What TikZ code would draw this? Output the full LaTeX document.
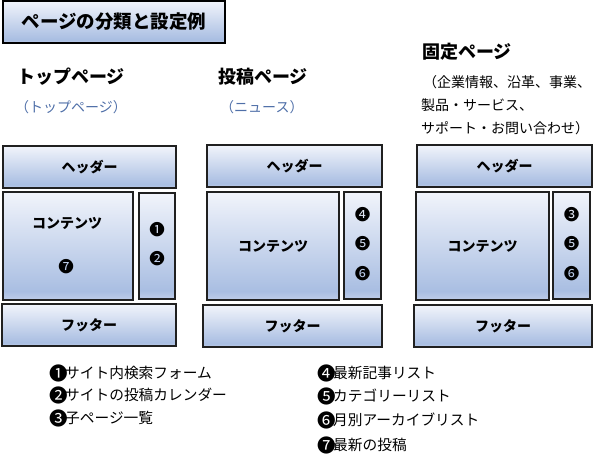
\documentclass[tikz,border=0pt]{standalone}
\usepackage{fontspec}
\setmainfont{Noto Sans CJK JP}
\definecolor{subblue}{HTML}{4F6FA8}
\definecolor{edge}{HTML}{202020}
\definecolor{shbot}{HTML}{BFCDEA}
\definecolor{shmid}{HTML}{A9BEE2}
\definecolor{shtop}{HTML}{F1F4FB}
\pgfdeclareverticalshading{boxshade}{100bp}{%
  color(0bp)=(shbot); color(25bp)=(shbot); color(29bp)=(shmid);
  color(75bp)=(shtop); color(100bp)=(shtop)}
\tikzset{
  pbox/.style={draw=edge, line width=1.3pt, shading=boxshade, inner sep=0pt},
  tbox/.style={draw=black, line width=2pt, shading=boxshade, inner sep=0pt},
  boxtext/.style={font=\fontsize{14}{16}\selectfont\bfseries, inner sep=0pt},
  num/.style={font=\fontsize{15.5}{16}\selectfont, inner sep=0pt},
  heading/.style={font=\fontsize{18}{20}\selectfont\bfseries, anchor=west, inner sep=0pt},
  sub/.style={font=\fontsize{14}{16}\selectfont, anchor=west, inner sep=0pt},
  legend/.style={font=\fontsize{14.7}{16}\selectfont, anchor=west, inner sep=0pt}
}
\newcommand{\pbx}[5]{% name, x1, y1, x2, y2
  \node[pbox, minimum width={(#4-#2)*1pt}, minimum height={(#5-#3)*1pt}] (#1) at ({(#2+#4)/2},{(#3+#5)/2}) {};}
\newcommand{\lnum}[1]{{\fontsize{18.5}{16}\selectfont\raisebox{-1.6pt}{#1}}\hspace{-2.5pt}}
\begin{document}
\begin{tikzpicture}[x=1pt,y=-1pt]
\useasboundingbox (0,0) rectangle (616,467);
% title
\node[tbox, minimum width=222pt, minimum height=42pt] (title) at (114,22) {};
\node[font=\fontsize{18.5}{20}\selectfont\bfseries, inner sep=0pt] (titletext) at (114,22) {ページの分類と設定例};
% headings
\node[heading] (h1) at (17,77) {トップページ};
\node[heading] (h2) at (218,77) {投稿ページ};
\node[heading] (h3) at (422,52) {固定ページ};
\node[sub, text=subblue] (s1) at (15,107) {（トップページ）};
\node[sub, text=subblue] (s2) at (220,107) {（ニュース）};
\node[sub] (s3a) at (423,82) {（企業情報、沿革、事業、};
\node[sub] (s3b) at (421,105) {製品・サービス、};
\node[sub] (s3c) at (421,128) {サポート・お問い合わせ）};
% left column
\pbx{lh}{3}{146}{176}{188}
\pbx{lc}{3}{192}{133}{300}
\pbx{ls}{139}{193}{175}{299}
\pbx{lf}{2}{304}{176}{346}
\node[boxtext] (lht) at (lh.center) {ヘッダー};
\node[boxtext] (lct) at (67,223) {コンテンツ};
\node[num] (l7) at (66,267) {❼};
\node[num] (l1) at (157,230) {❶};
\node[num] (l2) at (157,259) {❷};
\node[boxtext] (lft) at (lf.center) {フッター};
% middle column
\pbx{mh}{207}{145}{382}{187}
\pbx{mc}{207}{192}{339}{300}
\pbx{ms}{344}{192}{381}{299}
\pbx{mf}{203}{305}{382}{347}
\node[boxtext] (mht) at (mh.center) {ヘッダー};
\node[boxtext] (mct) at (273,246) {コンテンツ};
\node[num] (m4) at (362.5,215) {❹};
\node[num] (m5) at (362.5,244) {❺};
\node[num] (m6) at (362.5,274) {❻};
\node[boxtext] (mft) at (mf.center) {フッター};
% right column
\pbx{rh}{417}{145}{592}{187}
\pbx{rc}{416}{192}{549}{300}
\pbx{rs}{553}{192}{590}{299}
\pbx{rf}{414}{305}{592}{347}
\node[boxtext] (rht) at (rh.center) {ヘッダー};
\node[boxtext] (rct) at (482.5,246) {コンテンツ};
\node[num] (r3) at (571.5,215) {❸};
\node[num] (r5) at (571.5,244) {❺};
\node[num] (r6) at (571.5,274) {❻};
\node[boxtext] (rft) at (rf.center) {フッター};
% legend
\node[legend] (g1) at (49,373) {\lnum{❶}サイト内検索フォーム};
\node[legend] (g2) at (49,395) {\lnum{❷}サイトの投稿カレンダー};
\node[legend] (g3) at (49,418) {\lnum{❸}子ページ一覧};
\node[legend] (g4) at (317,373) {\lnum{❹}最新記事リスト};
\node[legend] (g5) at (317,396) {\lnum{❺}カテゴリーリスト};
\node[legend] (g6) at (317,420) {\lnum{❻}月別アーカイブリスト};
\node[legend] (g7) at (317,445) {\lnum{❼}最新の投稿};
\end{tikzpicture}
\end{document}
